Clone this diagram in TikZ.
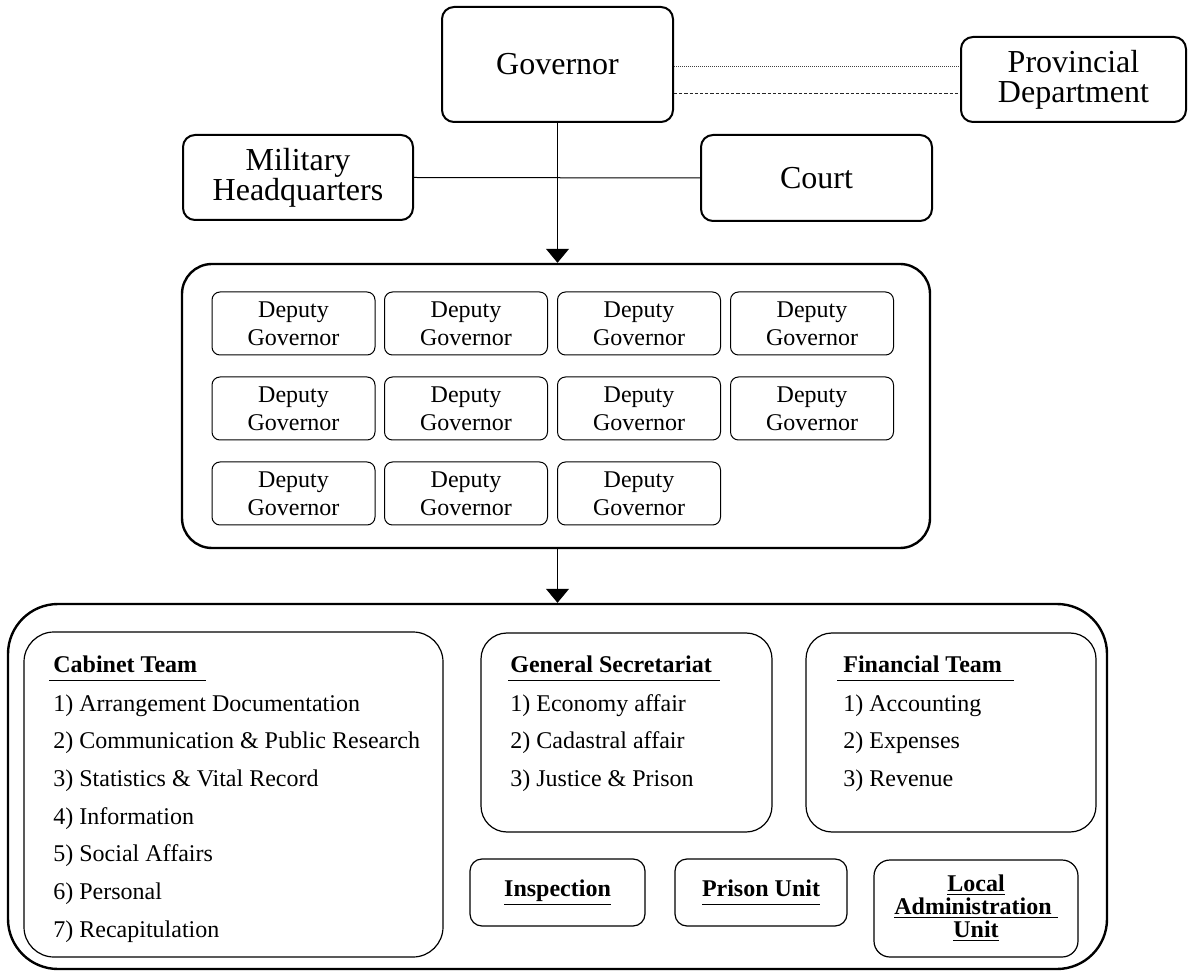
\documentclass[tikz,border=0pt]{standalone}
\usepackage{fontspec}
\setmainfont{Liberation Serif}
\usetikzlibrary{arrows.meta}

\tikzset{
  topbox/.style={draw, line width=1pt, rounded corners=6pt, align=center, inner sep=0pt,
    font=\fontsize{16}{15}\selectfont},
  deputy/.style={draw, line width=0.5pt, rounded corners=4pt, align=center, inner sep=0pt,
    minimum width=81.5pt, minimum height=31.5pt, font=\fontsize{12}{14}\selectfont},
  frame/.style={draw, line width=1.2pt, inner sep=0pt},
  section/.style={draw, line width=0.6pt, rounded corners=13pt, inner sep=0pt},
  unitbox/.style={draw, line width=0.6pt, rounded corners=6pt, align=center, inner sep=0pt,
    font=\bfseries\fontsize{12}{11.5}\selectfont},
  title/.style={anchor=base west, inner sep=0pt, font=\bfseries\fontsize{12}{14}\selectfont},
  item/.style={anchor=base west, inner sep=0pt, font=\fontsize{12}{14}\selectfont},
  link/.style={line width=0.5pt},
  down/.style={line width=0.5pt, -{Triangle[width=11.5pt,length=7pt]}},
  uline/.style={line width=0.5pt}
}

\begin{document}
\begin{tikzpicture}[x=0.5pt, y=-0.5pt]
  \useasboundingbox (0,0) rectangle (1188,972);

  % top level
  \node[topbox, minimum width=115.5pt, minimum height=57.5pt] (gov) at (557.5,64.5) {Governor};
  \node[topbox, minimum width=112.5pt, minimum height=42.5pt] (prov) at (1073.5,79.5) {Provincial\\Department};
  \node[topbox, minimum width=115pt, minimum height=42.5pt] (mil) at (298,177.5) {Military\\Headquarters};
  \node[topbox, minimum width=115.5pt, minimum height=43pt] (court) at (816.5,178) {Court};

  \draw[link, dash pattern=on 0.5pt off 0.5pt, draw=black!75] (gov.east |- 0,67) -- (prov.west |- 0,67);
  \draw[link, dash pattern=on 1.6pt off 1pt, draw=black!85] (gov.east |- 0,94) -- (prov.west |- 0,94);
  \draw[link] (mil.east) -- (court.west);

  % deputy governors
  \node[frame, rounded corners=15pt, minimum width=374pt, minimum height=142pt] (deps) at (556,406) {};
  \node[deputy] (d1) at (293.5,323.5) {Deputy\\Governor};
  \node[deputy] (d2) at (466,323.5) {Deputy\\Governor};
  \node[deputy] (d3) at (639,323.5) {Deputy\\Governor};
  \node[deputy] (d4) at (812,323.5) {Deputy\\Governor};
  \node[deputy] (d5) at (293.5,408.5) {Deputy\\Governor};
  \node[deputy] (d6) at (466,408.5) {Deputy\\Governor};
  \node[deputy] (d7) at (639,408.5) {Deputy\\Governor};
  \node[deputy] (d8) at (812,408.5) {Deputy\\Governor};
  \node[deputy] (d9) at (293.5,493.5) {Deputy\\Governor};
  \node[deputy] (d10) at (466,493.5) {Deputy\\Governor};
  \node[deputy] (d11) at (639,493.5) {Deputy\\Governor};

  \draw[down] (gov.south) -- (gov.south |- deps.north);

  % secretariat level
  \node[frame, rounded corners=25pt, minimum width=549.5pt, minimum height=182.5pt] (org) at (557.5,786.5) {};
  \draw[down] (gov.south |- deps.south) -- (gov.south |- org.north);

  \node[section, rounded corners=15pt, minimum width=209.5pt, minimum height=162.5pt] (cab) at (233.5,794.5) {};
  \node[section, minimum width=145.5pt, minimum height=99.5pt] (gen) at (626.5,732.5) {};
  \node[section, minimum width=145pt, minimum height=99.5pt] (fin) at (951,732.5) {};

  \node[title] (ct) at (53,672) {Cabinet Team};
  \node[title] (gt) at (510,672) {General Secretariat};
  \node[title] (ft) at (843,672) {Financial Team};
  \draw[uline] ([xshift=-2pt,yshift=-4pt]ct.base west) -- ([xshift=4pt,yshift=-4pt]ct.base east);
  \draw[uline] ([xshift=-1pt,yshift=-4pt]gt.base west) -- ([xshift=4pt,yshift=-4pt]gt.base east);
  \draw[uline] ([xshift=-3pt,yshift=-4pt]ft.base west) -- ([xshift=6pt,yshift=-4pt]ft.base east);

  \node[item] (c1) at (53,711) {1) Arrangement Documentation};
  \node[item] (c2) at (53,748.7) {2) Communication \& Public Research};
  \node[item] (c3) at (53,786.3) {3) Statistics \& Vital Record};
  \node[item] (c4) at (53,824) {4) Information};
  \node[item] (c5) at (53,861.7) {5) Social Affairs};
  \node[item] (c6) at (53,899.3) {6) Personal};
  \node[item] (c7) at (53,937) {7) Recapitulation};

  \node[item] (g1) at (510,711) {1) Economy affair};
  \node[item] (g2) at (510,748.7) {2) Cadastral affair};
  \node[item] (g3) at (510,786.3) {3) Justice \& Prison};

  \node[item] (f1) at (843,711) {1) Accounting};
  \node[item] (f2) at (843,748.7) {2) Expenses};
  \node[item] (f3) at (843,786.3) {3) Revenue};

  \node[unitbox, minimum width=87.5pt, minimum height=33.5pt] (insp) at (557.5,892.5) {\underline{Inspection}};
  \node[unitbox, minimum width=86pt, minimum height=33.5pt] (pris) at (761,892.5) {\underline{Prison Unit\vphantom{p}}};
  \node[unitbox, rounded corners=8pt, minimum width=102pt, minimum height=48.5pt] (local) at (976,908.5)
    {\underline{Local}\\\underline{Administration\ }\\\underline{Unit}};
\end{tikzpicture}
\end{document}
